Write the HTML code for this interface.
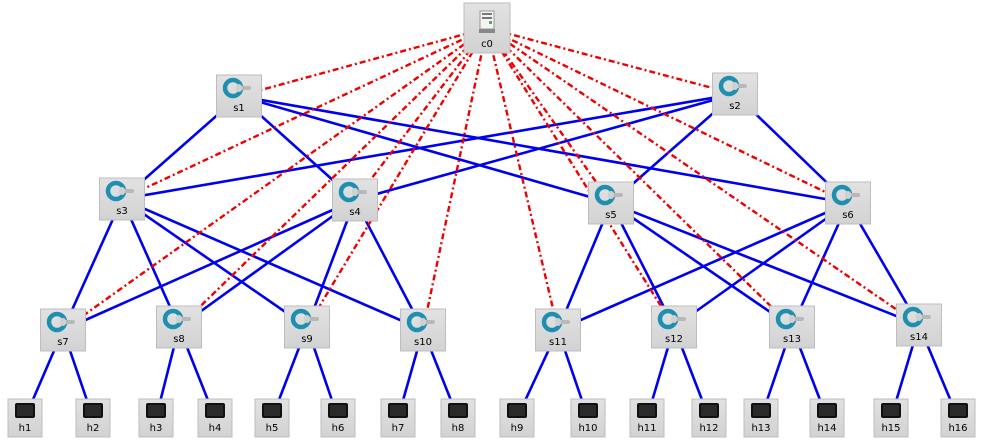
<!DOCTYPE html>
<html><head><meta charset="utf-8"><style>
html,body{margin:0;padding:0;background:#fff;}
svg{display:block;font-family:"DejaVu Sans","Liberation Sans",sans-serif;}
</style></head><body>
<svg width="984" height="440" viewBox="0 0 984 440" xmlns="http://www.w3.org/2000/svg">
<defs>
<linearGradient id="bx" x1="0" y1="0" x2="0" y2="1"><stop offset="0" stop-color="#e2e2e2"/><stop offset="1" stop-color="#d2d2d2"/></linearGradient>
<g id="sw">
<rect x="-22.5" y="-21" width="45" height="42" fill="url(#bx)" stroke="#bdbdbd"/>
<circle cx="-6" cy="-8" r="8" fill="none" stroke="#1f8fb0" stroke-width="4.5"/>
<rect x="-1" y="-10" width="13" height="4" rx="2" fill="#b8b8b8"/>
<rect x="-3" y="-12" width="6" height="8" rx="3" fill="#d0d0d0"/>
</g>
<g id="hs">
<rect x="-17" y="-19" width="34" height="38" fill="url(#bx)" stroke="#bdbdbd"/>
<rect x="-10" y="-15" width="20" height="15" rx="2" fill="#111"/>
<rect x="-8" y="-13" width="16" height="11" fill="#2a2a2a"/>
</g>
</defs>
<g stroke="#0000f0" stroke-width="2.6">
<line x1="239" y1="96" x2="122" y2="199"/><line x1="239" y1="96" x2="355" y2="200"/><line x1="239" y1="96" x2="611" y2="203"/><line x1="239" y1="96" x2="848" y2="203"/>
<line x1="735" y1="94" x2="122" y2="199"/><line x1="735" y1="94" x2="355" y2="200"/><line x1="735" y1="94" x2="611" y2="203"/><line x1="735" y1="94" x2="848" y2="203"/>
<line x1="122" y1="199" x2="63" y2="330"/><line x1="122" y1="199" x2="179" y2="327"/><line x1="122" y1="199" x2="307" y2="327"/><line x1="122" y1="199" x2="423" y2="330"/>
<line x1="355" y1="200" x2="63" y2="330"/><line x1="355" y1="200" x2="179" y2="327"/><line x1="355" y1="200" x2="307" y2="327"/><line x1="355" y1="200" x2="423" y2="330"/>
<line x1="611" y1="203" x2="558" y2="330"/><line x1="611" y1="203" x2="674" y2="327"/><line x1="611" y1="203" x2="792" y2="327"/><line x1="611" y1="203" x2="919" y2="325"/>
<line x1="848" y1="203" x2="558" y2="330"/><line x1="848" y1="203" x2="674" y2="327"/><line x1="848" y1="203" x2="792" y2="327"/><line x1="848" y1="203" x2="919" y2="325"/>
<line x1="63" y1="330" x2="25" y2="418"/><line x1="63" y1="330" x2="93" y2="418"/>
<line x1="179" y1="327" x2="156" y2="418"/><line x1="179" y1="327" x2="215" y2="418"/>
<line x1="307" y1="327" x2="272" y2="418"/><line x1="307" y1="327" x2="338" y2="418"/>
<line x1="423" y1="330" x2="398" y2="418"/><line x1="423" y1="330" x2="458" y2="418"/>
<line x1="558" y1="330" x2="517" y2="418"/><line x1="558" y1="330" x2="588" y2="418"/>
<line x1="674" y1="327" x2="647" y2="418"/><line x1="674" y1="327" x2="709" y2="418"/>
<line x1="792" y1="327" x2="761" y2="418"/><line x1="792" y1="327" x2="827" y2="418"/>
<line x1="919" y1="325" x2="891" y2="418"/><line x1="919" y1="325" x2="958" y2="418"/>
</g>
<g stroke="#ee0000" stroke-width="2.4" stroke-dasharray="6 3 2 3">
<line x1="487" y1="28" x2="239" y2="96"/><line x1="487" y1="28" x2="735" y2="94"/>
<line x1="487" y1="28" x2="122" y2="199"/><line x1="487" y1="28" x2="355" y2="200"/><line x1="487" y1="28" x2="611" y2="203"/><line x1="487" y1="28" x2="848" y2="203"/>
<line x1="487" y1="28" x2="63" y2="330"/><line x1="487" y1="28" x2="179" y2="327"/><line x1="487" y1="28" x2="307" y2="327"/><line x1="487" y1="28" x2="423" y2="330"/>
<line x1="487" y1="28" x2="558" y2="330"/><line x1="487" y1="28" x2="674" y2="327"/><line x1="487" y1="28" x2="792" y2="327"/><line x1="487" y1="28" x2="919" y2="325"/>
</g>
<g>
<rect x="464" y="3" width="46" height="50" fill="url(#bx)" stroke="#bdbdbd"/>
<rect x="480" y="11" width="14" height="18" fill="#f4f4f4" stroke="#999"/>
<rect x="482" y="13" width="10" height="2" fill="#777"/><rect x="482" y="17" width="10" height="2" fill="#777"/><rect x="489" y="21" width="3" height="3" fill="#5a5"/>
<rect x="479" y="29" width="16" height="4" fill="#888"/>
</g>
<g font-size="10" fill="#000" text-anchor="middle">
<text x="487" y="47">c0</text>
<use href="#sw" x="239" y="96"/><text x="239" y="111">s1</text>
<use href="#sw" x="735" y="94"/><text x="735" y="109">s2</text>
<use href="#sw" x="122" y="199"/><text x="122" y="214">s3</text>
<use href="#sw" x="355" y="200"/><text x="355" y="215">s4</text>
<use href="#sw" x="611" y="203"/><text x="611" y="218">s5</text>
<use href="#sw" x="848" y="203"/><text x="848" y="218">s6</text>
<use href="#sw" x="63" y="330"/><text x="63" y="345">s7</text>
<use href="#sw" x="179" y="327"/><text x="179" y="342">s8</text>
<use href="#sw" x="307" y="327"/><text x="307" y="342">s9</text>
<use href="#sw" x="423" y="330"/><text x="423" y="345">s10</text>
<use href="#sw" x="558" y="330"/><text x="558" y="345">s11</text>
<use href="#sw" x="674" y="327"/><text x="674" y="342">s12</text>
<use href="#sw" x="792" y="327"/><text x="792" y="342">s13</text>
<use href="#sw" x="919" y="325"/><text x="919" y="340">s14</text>
<use href="#hs" x="25" y="418"/><text x="25" y="431">h1</text>
<use href="#hs" x="93" y="418"/><text x="93" y="431">h2</text>
<use href="#hs" x="156" y="418"/><text x="156" y="431">h3</text>
<use href="#hs" x="215" y="418"/><text x="215" y="431">h4</text>
<use href="#hs" x="272" y="418"/><text x="272" y="431">h5</text>
<use href="#hs" x="338" y="418"/><text x="338" y="431">h6</text>
<use href="#hs" x="398" y="418"/><text x="398" y="431">h7</text>
<use href="#hs" x="458" y="418"/><text x="458" y="431">h8</text>
<use href="#hs" x="517" y="418"/><text x="517" y="431">h9</text>
<use href="#hs" x="588" y="418"/><text x="588" y="431">h10</text>
<use href="#hs" x="647" y="418"/><text x="647" y="431">h11</text>
<use href="#hs" x="709" y="418"/><text x="709" y="431">h12</text>
<use href="#hs" x="761" y="418"/><text x="761" y="431">h13</text>
<use href="#hs" x="827" y="418"/><text x="827" y="431">h14</text>
<use href="#hs" x="891" y="418"/><text x="891" y="431">h15</text>
<use href="#hs" x="958" y="418"/><text x="958" y="431">h16</text>
</g>
</svg>
</body></html>
